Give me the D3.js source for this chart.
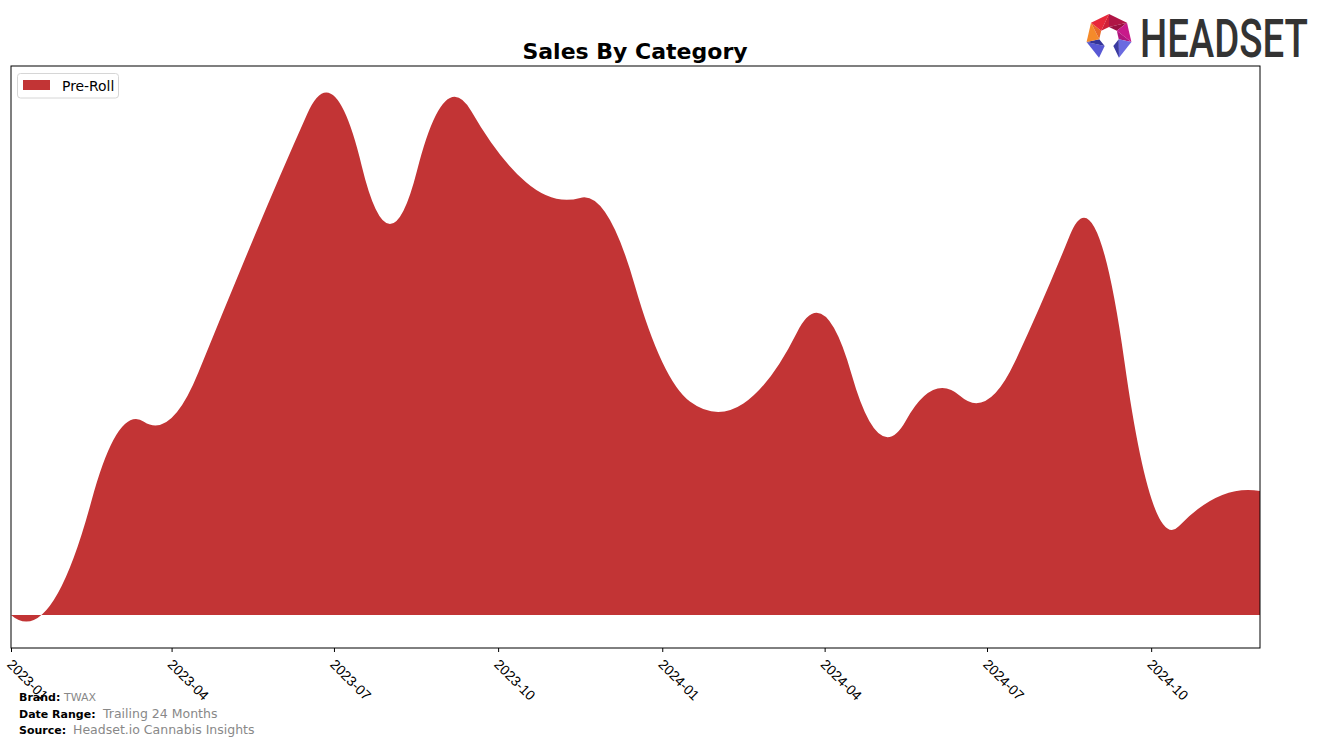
<!DOCTYPE html>
<html><head><meta charset="utf-8">
<script src="https://cdn.jsdelivr.net/npm/d3@7"></script>
<style>body{margin:0;background:#fff}svg{display:block;font-family:"DejaVu Sans",sans-serif}</style>
</head><body>
<svg id="c" width="1324" height="746"></svg>
<script>
const months = ["2023-01","2023-02","2023-03","2023-04","2023-05","2023-06","2023-07","2023-08","2023-09","2023-10","2023-11","2023-12",
"2024-01","2024-02","2024-03","2024-04","2024-05","2024-06","2024-07","2024-08","2024-09","2024-10","2024-11","2024-12"];
const preRollSales = [0,3900,18000,19700,30800,44000,51900,39100,51300,46300,41700,40000,
25300,20300,23700,29900,18200,22500,21500,31400,38100,11700,11200,12400];
const tickLabels = ["2023-01","2023-04","2023-07","2023-10","2024-01","2024-04","2024-07","2024-10"];
const seriesName = "Pre-Roll";
const colour = "#c23435";

function solve(A,b){
  const n=b.length;
  for(let k=0;k<n;k++){
    let p=k; for(let r=k+1;r<n;r++) if(Math.abs(A[r][k])>Math.abs(A[p][k])) p=r;
    [A[k],A[p]]=[A[p],A[k]]; [b[k],b[p]]=[b[p],b[k]];
    for(let r=k+1;r<n;r++){ const f=A[r][k]/A[k][k]; if(!f) continue;
      for(let j=k;j<n;j++) A[r][j]-=f*A[k][j]; b[r]-=f*b[k]; }
  }
  const s=new Array(n).fill(0);
  for(let k=n-1;k>=0;k--){ let v=b[k]; for(let j=k+1;j<n;j++) v-=A[k][j]*s[j]; s[k]=v/A[k][k]; }
  return s;
}
// interpolating quadratic spline, knots at midpoints (2nd and 2nd-last omitted)
function quadSegments(x,y){
  const n=x.length;
  const br=[x[0]]; for(let i=1;i<=n-3;i++) br.push((x[i]+x[i+1])/2); br.push(x[n-1]);
  const P=br.length-1, N=3*P;
  const A=[...Array(N)].map(()=>new Array(N).fill(0)), b=new Array(N).fill(0);
  let r=0;
  for(let j=0;j<P-1;j++){
    const h=br[j+1]-br[j];
    A[r][3*j]=1; A[r][3*j+1]=h; A[r][3*j+2]=h*h; A[r][3*(j+1)]=-1; r++;
    A[r][3*j+1]=1; A[r][3*j+2]=2*h; A[r][3*(j+1)+1]=-1; r++;
  }
  for(let i=0;i<n;i++){
    let j=0; while(j<P-1 && x[i]>br[j+1]) j++;
    const d=x[i]-br[j];
    A[r][3*j]=1; A[r][3*j+1]=d; A[r][3*j+2]=d*d; b[r]=y[i]; r++;
  }
  const c=solve(A,b), segs=[];
  for(let j=0;j<P;j++){
    const h=br[j+1]-br[j], c0=c[3*j], c1=c[3*j+1], c2=c[3*j+2];
    segs.push({x0:br[j], y0:c0, cx:br[j]+h/2, cy:c0+c1*h/2, x1:br[j+1], y1:c0+c1*h+c2*h*h});
  }
  return segs;
}
function QuadSpline(context){ this._context = context; }
QuadSpline.prototype = {
  areaStart(){ this._line = 0; },
  areaEnd(){ this._line = NaN; },
  lineStart(){ this._x = []; this._y = []; },
  point(x,y){ this._x.push(+x); this._y.push(+y); },
  lineEnd(){
    let x=this._x, y=this._y; const n=x.length, c=this._context;
    if (n) {
      this._line ? c.lineTo(x[0],y[0]) : c.moveTo(x[0],y[0]);
      if (n < 4) { for (let i=1;i<n;i++) c.lineTo(x[i],y[i]); }
      else {
        const rev = x[0] > x[n-1];
        if (rev) { x=x.slice().reverse(); y=y.slice().reverse(); }
        let segs = quadSegments(x,y);
        if (rev) segs = segs.reverse().map(s=>({x0:s.x1,y0:s.y1,cx:s.cx,cy:s.cy,x1:s.x0,y1:s.y0}));
        segs.forEach(s=>c.quadraticCurveTo(s.cx,s.cy,s.x1,s.y1));
      }
    }
    if (this._line || (this._line !== 0 && n === 1)) c.closePath();
    this._line = 1 - this._line;
    this._x = this._y = null;
  }
};
const curveQuadSpline = ctx => new QuadSpline(ctx);

const svg = d3.select("#c");
const parse = d3.timeParse("%Y-%m");
const L=11, R=1260, T=66, B=648;
const x = d3.scaleTime().domain([parse(months[0]), parse(months[months.length-1])]).range([L,R]);
const y = d3.scaleLinear().domain([-3300, 54900]).range([B,T]);

const data = months.map((m,i)=>({d:parse(m), v:preRollSales[i]}));
svg.append("clipPath").attr("id","clip").append("rect").attr("x",L).attr("y",T).attr("width",R-L).attr("height",B-T);
const area = d3.area().x(d=>x(d.d)).y0(y(0)).y1(d=>y(d.v)).curve(curveQuadSpline);
svg.append("path").datum(data).attr("d",area).attr("fill",colour).attr("clip-path","url(#clip)");

svg.append("rect").attr("x",L).attr("y",T).attr("width",R-L).attr("height",B-T).attr("fill","none").attr("stroke","#000").attr("stroke-width",1);

const ax = svg.append("g").attr("transform",`translate(0,${B})`)
  .call(d3.axisBottom(x).tickValues(tickLabels.map(parse)).tickFormat(d3.timeFormat("%Y-%m")).tickSize(4).tickSizeOuter(0));
ax.select(".domain").remove();
ax.selectAll("line").attr("stroke","#000");
ax.selectAll(".tick text").attr("font-size",13.9).attr("fill","#000").attr("text-anchor","start")
  .attr("x",0).attr("y",0).attr("dy","0.74em").attr("transform","translate(2,10) rotate(45)");

svg.append("text").attr("x",635).attr("y",59).attr("text-anchor","middle").attr("font-size",22).attr("font-weight","bold").text("Sales By Category");

const lg = svg.append("g");
lg.append("rect").attr("x",17.5).attr("y",73.5).attr("width",101).attr("height",24.5).attr("rx",3).attr("fill","#fff").attr("stroke","#d6d6d6");
lg.append("rect").attr("x",23).attr("y",80).attr("width",27).attr("height",10).attr("fill",colour);
lg.append("text").attr("x",62).attr("y",90.5).attr("font-size",13.9).text(seriesName);

const foot = [["Brand:","TWAX",64,11],["Date Range:","Trailing 24 Months",103,12.5],["Source:","Headset.io Cannabis Insights",73,12.5]];
foot.forEach((f,i)=>{
  const yy = 701 + i*16.5;
  svg.append("text").attr("x",19).attr("y",yy).attr("font-size",11).attr("font-weight","bold").text(f[0]);
  svg.append("text").attr("x",f[2]).attr("y",yy).attr("font-size",f[3]).attr("fill","#888").text(f[1]);
});

// logo icon: faceted heptagon ring open at the bottom
const lgo = svg.append("g");
const cx=1109, cy=37, ro=23, ri=10;
const pt=(k,r)=>{const a=(-90+k*360/7)*Math.PI/180; return [cx+r*Math.cos(a), cy+r*Math.sin(a)];};
const segCols = [["#b01545","#9a1040"],["#c81a8a","#b0157e"],["#6a6ae0","#3a3aa0"],null,["#5858d4","#34349a"],["#f58a2a","#e86a28"],["#e8283a","#d02038"]];
segCols.forEach((cs,k)=>{
  if(!cs) return;
  const o0=pt(k,ro), o1=pt(k+1,ro), i0=pt(k,ri), i1=pt(k+1,ri);
  lgo.append("polygon").attr("points",[o0,o1,i0].map(p=>p.join(",")).join(" ")).attr("fill",cs[0]);
  lgo.append("polygon").attr("points",[o1,i1,i0].map(p=>p.join(",")).join(" ")).attr("fill",cs[1]);
});
const word = lgo.append("text").attr("font-size",54).attr("font-family","Roboto").attr("font-weight",500).attr("fill","#333").text("HEADSET");
const wl = word.node().getComputedTextLength();
word.attr("transform",`translate(1140,57) scale(${168/wl},1)`);
</script>
</body></html>
